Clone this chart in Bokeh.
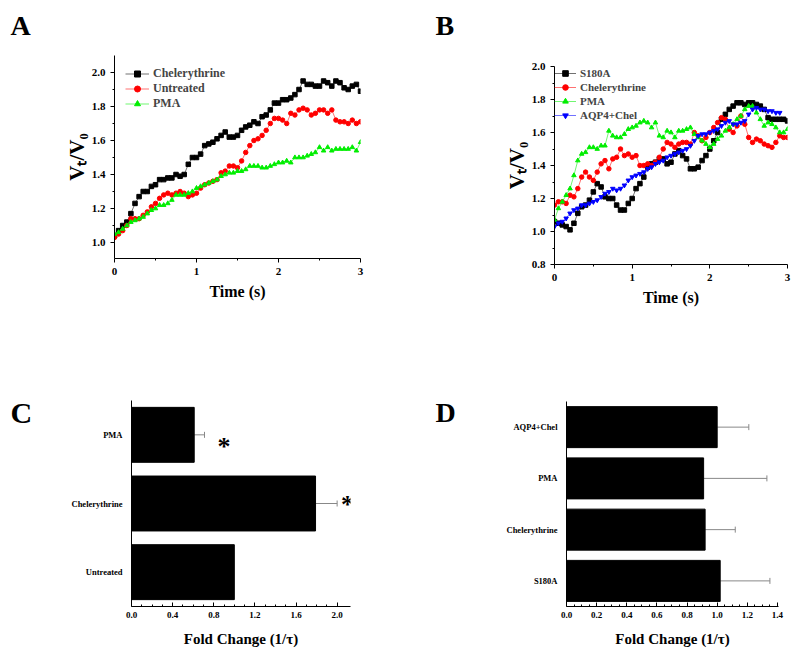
from bokeh.plotting import figure
from bokeh.layouts import column, row
from bokeh.models import (Range1d, FactorRange, FixedTicker, PrintfTickFormatter, Legend, LegendItem,
                          Whisker, TeeHead, ColumnDataSource)
from bokeh.core.properties import value
from bokeh.embed import file_html
from bokeh.resources import INLINE

FONT = "Liberation Serif"

# ---------------- data ----------------
TIME = [0.00, 0.05, 0.10, 0.15, 0.20, 0.25, 0.30, 0.35, 0.40, 0.45, 0.50, 0.55, 0.60, 0.65, 0.70,
        0.75, 0.80, 0.85, 0.90, 0.95, 1.00, 1.05, 1.10, 1.15, 1.20, 1.25, 1.30, 1.35, 1.40, 1.45,
        1.50, 1.55, 1.60, 1.65, 1.70, 1.75, 1.80, 1.85, 1.90, 1.95, 2.00, 2.05, 2.10, 2.15, 2.20,
        2.25, 2.30, 2.35, 2.40, 2.45, 2.50, 2.55, 2.60, 2.65, 2.70, 2.75, 2.80, 2.85, 2.90, 2.95, 3.00]

A_CHELERYTHRINE = [1.04, 1.07, 1.10, 1.12, 1.17, 1.23, 1.27, 1.30, 1.30, 1.33,
                   1.34, 1.37, 1.37, 1.38, 1.38, 1.40, 1.39, 1.40, 1.46, 1.50,
                   1.50, 1.52, 1.57, 1.58, 1.59, 1.61, 1.63, 1.65, 1.62, 1.62,
                   1.63, 1.66, 1.68, 1.69, 1.71, 1.70, 1.74, 1.75, 1.78, 1.82,
                   1.82, 1.84, 1.84, 1.85, 1.87, 1.90, 1.95, 1.93, 1.93, 1.92,
                   1.92, 1.95, 1.94, 1.92, 1.95, 1.94, 1.91, 1.90, 1.92, 1.93, 1.89]
A_UNTREATED = [1.03, 1.05, 1.07, 1.10, 1.14, 1.14, 1.14, 1.16, 1.18, 1.21,
               1.23, 1.26, 1.28, 1.29, 1.28, 1.29, 1.30, 1.29, 1.27, 1.28,
               1.29, 1.32, 1.34, 1.35, 1.36, 1.37, 1.41, 1.42, 1.45, 1.45,
               1.44, 1.48, 1.53, 1.57, 1.60, 1.61, 1.63, 1.66, 1.70, 1.73,
               1.73, 1.72, 1.70, 1.76, 1.75, 1.78, 1.79, 1.78, 1.75, 1.76,
               1.78, 1.78, 1.76, 1.78, 1.72, 1.71, 1.71, 1.70, 1.72, 1.70, 1.71]
A_PMA = [1.05, 1.06, 1.08, 1.10, 1.12, 1.13, 1.14, 1.15, 1.17, 1.19,
         1.20, 1.22, 1.22, 1.23, 1.25, 1.28, 1.28, 1.28, 1.29, 1.30,
         1.32, 1.33, 1.34, 1.35, 1.36, 1.37, 1.39, 1.40, 1.41, 1.41,
         1.42, 1.42, 1.43, 1.45, 1.45, 1.45, 1.44, 1.44, 1.45, 1.46,
         1.47, 1.47, 1.48, 1.47, 1.50, 1.50, 1.50, 1.51, 1.52, 1.53,
         1.56, 1.54, 1.56, 1.54, 1.55, 1.55, 1.55, 1.55, 1.56, 1.54, 1.59]

B_S180A = [1.06, 1.05, 1.04, 1.03, 1.01, 1.05, 1.11, 1.15, 1.16, 1.19,
           1.24, 1.29, 1.27, 1.21, 1.20, 1.20, 1.16, 1.13, 1.13, 1.17,
           1.20, 1.26, 1.29, 1.33, 1.39, 1.41, 1.42, 1.44, 1.44, 1.41,
           1.42, 1.47, 1.49, 1.46, 1.44, 1.38, 1.38, 1.39, 1.43, 1.46,
           1.50, 1.55, 1.60, 1.68, 1.71, 1.74, 1.76, 1.78, 1.78, 1.77,
           1.78, 1.78, 1.77, 1.76, 1.74, 1.69, 1.68, 1.68, 1.68, 1.68, 1.67]
B_CHELERYTHRINE = [1.16, 1.18, 1.18, 1.17, 1.22, 1.21, 1.26, 1.33, 1.36, 1.33,
                   1.31, 1.36, 1.41, 1.43, 1.38, 1.44, 1.45, 1.50, 1.46, 1.47,
                   1.45, 1.46, 1.40, 1.40, 1.41, 1.40, 1.42, 1.45, 1.50, 1.54,
                   1.53, 1.51, 1.53, 1.54, 1.54, 1.53, 1.60, 1.58, 1.55, 1.57,
                   1.60, 1.63, 1.66, 1.69, 1.68, 1.62, 1.60, 1.64, 1.70, 1.65,
                   1.57, 1.54, 1.56, 1.55, 1.53, 1.52, 1.51, 1.54, 1.58, 1.57, 1.57]
B_PMA = [1.07, 1.14, 1.18, 1.22, 1.26, 1.34, 1.43, 1.47, 1.48, 1.51,
         1.51, 1.50, 1.52, 1.52, 1.61, 1.58, 1.57, 1.57, 1.59, 1.62,
         1.63, 1.64, 1.66, 1.67, 1.66, 1.63, 1.66, 1.58, 1.57, 1.61,
         1.60, 1.57, 1.61, 1.61, 1.62, 1.63, 1.59, 1.57, 1.55, 1.53,
         1.51, 1.53, 1.56, 1.58, 1.61, 1.63, 1.65, 1.68, 1.70, 1.74,
         1.76, 1.76, 1.72, 1.68, 1.64, 1.66, 1.65, 1.63, 1.60, 1.60, 1.62]
B_AQP4_CHEL = [1.03, 1.05, 1.06, 1.08, 1.11, 1.13, 1.14, 1.16, 1.16, 1.17,
               1.18, 1.19, 1.21, 1.23, 1.24, 1.26, 1.25, 1.26, 1.28, 1.31,
               1.33, 1.34, 1.35, 1.36, 1.38, 1.39, 1.41, 1.42, 1.43, 1.45,
               1.46, 1.47, 1.48, 1.49, 1.50, 1.52, 1.55, 1.58, 1.59, 1.59,
               1.60, 1.61, 1.62, 1.64, 1.66, 1.67, 1.65, 1.65, 1.66, 1.67,
               1.71, 1.74, 1.75, 1.74, 1.74, 1.73, 1.73, 1.72, 1.72]

C_GROUPS = ["Untreated", "Chelerythrine", "PMA"]
C_FOLD = [1.00, 1.79, 0.61]
C_ERR = [0.0, 0.21, 0.10]
C_STAR_GROUPS = ["PMA", "Chelerythrine"]

D_GROUPS = ["S180A", "Chelerythrine", "PMA", "AQP4+Chel"]
D_FOLD = [1.02, 0.92, 0.91, 1.00]
D_ERR = [0.33, 0.20, 0.42, 0.21]

A_YTICKS = [1.0, 1.2, 1.4, 1.6, 1.8, 2.0]
B_YTICKS = [0.8, 1.0, 1.2, 1.4, 1.6, 1.8, 2.0]
T_TICKS = [0, 1, 2, 3]
C_XTICKS = [0.0, 0.4, 0.8, 1.2, 1.6, 2.0]
D_XTICKS = [0.0, 0.2, 0.4, 0.6, 0.8, 1.0, 1.2, 1.4]

PANEL_LETTERS = ["A", "B", "C", "D"]


def style_axis(ax, label_size, tick_size, ticks_out=True, standoff=5):
    ax.axis_line_color = "black"
    ax.axis_line_width = 1
    ax.major_tick_line_color = "black"
    ax.minor_tick_line_color = "black"
    if ticks_out:
        ax.major_tick_out, ax.major_tick_in = 4, 0
        ax.minor_tick_out, ax.minor_tick_in = 2, 0
    else:
        ax.major_tick_out, ax.major_tick_in = 0, 4
        ax.minor_tick_out, ax.minor_tick_in = 0, 2
    ax.major_label_text_font = FONT
    ax.major_label_text_font_style = "bold"
    ax.major_label_text_font_size = tick_size
    ax.major_label_text_color = "black"
    ax.axis_label_text_font = FONT
    ax.axis_label_text_font_style = "bold"
    ax.axis_label_text_font_size = label_size
    ax.axis_label_text_color = "black"
    ax.axis_label_standoff = standoff


def base_fig(w, h, left, right, top, bottom, **kw):
    p = figure(width=w, height=h, min_border_left=left, min_border_right=right,
               min_border_top=top, min_border_bottom=bottom, output_backend="svg",
               toolbar_location=None, **kw)
    p.grid.visible = False
    p.outline_line_color = None
    p.background_fill_color = "white"
    p.border_fill_color = "white"
    return p


def letter_fig(w, h, txt, tx, ty, size):
    # a bare figure whose frame is the whole figure, used only to hold the panel letter
    p = figure(width=w, height=h, x_range=Range1d(0, w), y_range=Range1d(h, 0),
               min_border=0, x_axis_location=None, y_axis_location=None,
               output_backend="svg", toolbar_location=None)
    p.grid.visible = False
    p.outline_line_color = None
    p.text(x=[tx], y=[ty], text=[txt], text_font=value(FONT), text_font_style="bold",
           text_font_size=size, text_color="black", text_align="left",
           text_baseline="alphabetic")
    return p


def minor_list(major, n):
    out = []
    for a, b in zip(major[:-1], major[1:]):
        for k in range(1, n):
            out.append(a + (b - a) * k / n)
    return out


def series(p, x, y, color, marker, size=4.5):
    ln = p.line(x, y, line_color=color, line_width=0.8, line_alpha=0.7)
    sc = p.scatter(x, y, marker=marker, size=size, fill_color=color, line_color=color)
    return [ln, sc]


GREEN = "#00ee00"

# ---------------- Panel A ----------------
pA = base_fig(360, 330, 74, 40, 55, 72, x_range=Range1d(0, 3), y_range=Range1d(0.906, 2.1))
ra1 = series(pA, TIME, A_CHELERYTHRINE, "black", "square")
ra2 = series(pA, TIME, A_UNTREATED, "red", "circle")
ra3 = series(pA, TIME, A_PMA, GREEN, "triangle")
pA.xaxis.ticker = FixedTicker(ticks=T_TICKS, minor_ticks=[0.5, 1.5, 2.5])
pA.yaxis.ticker = FixedTicker(ticks=A_YTICKS, minor_ticks=minor_list(A_YTICKS, 2))
pA.yaxis.formatter = PrintfTickFormatter(format="%.1f")
pA.xaxis.axis_label = "Time (s)"
pA.yaxis.axis_label = "V\u209c/V\u2080"
style_axis(pA.xaxis[0], "16px", "11px")
style_axis(pA.yaxis[0], "21px", "11px", standoff=0)
legA = Legend(items=[LegendItem(label="Chelerythrine", renderers=ra1),
                     LegendItem(label="Untreated", renderers=ra2),
                     LegendItem(label="PMA", renderers=ra3)],
              location="top_left", margin=11, padding=7, spacing=0,
              glyph_width=24, glyph_height=15, label_height=15, label_standoff=4,
              border_line_color=None, background_fill_alpha=0,
              label_text_font=FONT, label_text_font_style="bold", label_text_font_size="12px")
pA.add_layout(legA)

# ---------------- Panel B ----------------
pB = base_fig(340, 330, 94, 13, 66, 66, x_range=Range1d(0, 3), y_range=Range1d(0.8, 2.0))
rb1 = series(pB, TIME, B_S180A, "black", "square")
rb2 = series(pB, TIME, B_CHELERYTHRINE, "red", "circle")
rb3 = series(pB, TIME, B_PMA, GREEN, "triangle")
rb4 = series(pB, TIME[:len(B_AQP4_CHEL)], B_AQP4_CHEL, "blue", "inverted_triangle")
pB.xaxis.ticker = FixedTicker(ticks=T_TICKS, minor_ticks=[0.5, 1.5, 2.5])
pB.yaxis.ticker = FixedTicker(ticks=B_YTICKS, minor_ticks=minor_list(B_YTICKS, 2))
pB.yaxis.formatter = PrintfTickFormatter(format="%.1f")
pB.xaxis.axis_label = "Time (s)"
pB.yaxis.axis_label = "V\u209c/V\u2080"
style_axis(pB.xaxis[0], "16px", "11px")
style_axis(pB.yaxis[0], "21px", "11px", standoff=0)
legB = Legend(items=[LegendItem(label="S180A", renderers=rb1),
                     LegendItem(label="Chelerythrine", renderers=rb2),
                     LegendItem(label="PMA", renderers=rb3),
                     LegendItem(label="AQP4+Chel", renderers=rb4)],
              location="top_left", margin=0, padding=4, spacing=0,
              glyph_width=22, glyph_height=14, label_height=14, label_standoff=4,
              border_line_color=None, background_fill_alpha=0,
              label_text_font=FONT, label_text_font_style="bold", label_text_font_size="11px")
pB.add_layout(legB)

# ---------------- Panel C ----------------
pC = base_fig(360, 329, 91, 50, 70, 53, x_range=Range1d(0, 2.13),
              y_range=FactorRange(factors=C_GROUPS, range_padding=0))
srcC = ColumnDataSource(dict(g=C_GROUPS, v=C_FOLD))
pC.hbar(y="g", right="v", left=0, height=0.8, source=srcC, fill_color="black", line_color="black")
errC = ColumnDataSource(dict(g=C_GROUPS[1:], v=C_FOLD[1:],
                             hi=[a + b for a, b in zip(C_FOLD[1:], C_ERR[1:])]))
pC.add_layout(Whisker(source=errC, base="g", lower="v", upper="hi", dimension="width",
                      line_color="#888888", line_width=1, lower_head=None,
                      upper_head=TeeHead(size=6, line_color="#888888", line_width=1)))
star_x = [C_FOLD[C_GROUPS.index(g)] + C_ERR[C_GROUPS.index(g)] + (0.19 if g == "PMA" else 0.1)
          for g in C_STAR_GROUPS]
pC.text(x=star_x, y=C_STAR_GROUPS, text=["*", "*"], text_font=value(FONT),
        text_font_style="bold", text_font_size="26px", text_align="center",
        text_baseline="middle", y_offset=[12, 1], text_color="black")
pC.xaxis.ticker = FixedTicker(ticks=C_XTICKS, minor_ticks=minor_list(C_XTICKS, 4))
pC.xaxis.formatter = PrintfTickFormatter(format="%.1f")
pC.xaxis.axis_label = "Fold Change (1/\u03c4)"
style_axis(pC.xaxis[0], "15px", "9px", ticks_out=False, standoff=10)
style_axis(pC.yaxis[0], "15px", "8.5px")
pC.yaxis.major_tick_line_color = None
pC.yaxis.minor_tick_line_color = None

# ---------------- Panel D ----------------
pD = base_fig(340, 329, 106, 22, 71, 53, x_range=Range1d(0, 1.407),
              y_range=FactorRange(factors=D_GROUPS, range_padding=0))
srcD = ColumnDataSource(dict(g=D_GROUPS, v=D_FOLD, hi=[a + b for a, b in zip(D_FOLD, D_ERR)]))
pD.hbar(y="g", right="v", left=0, height=0.8, source=srcD, fill_color="black", line_color="black")
pD.add_layout(Whisker(source=srcD, base="g", lower="v", upper="hi", dimension="width",
                      line_color="#888888", line_width=1, lower_head=None,
                      upper_head=TeeHead(size=6, line_color="#888888", line_width=1)))
pD.xaxis.ticker = FixedTicker(ticks=D_XTICKS, minor_ticks=minor_list(D_XTICKS, 4))
pD.xaxis.formatter = PrintfTickFormatter(format="%.1f")
pD.xaxis.axis_label = "Fold Change (1/\u03c4)"
style_axis(pD.xaxis[0], "15px", "9px", ticks_out=False, standoff=10)
style_axis(pD.yaxis[0], "15px", "8.5px")
pD.yaxis.major_tick_line_color = None
pD.yaxis.minor_tick_line_color = None

# ---------------- panel letters ----------------
lA = letter_fig(40, 330, PANEL_LETTERS[0], 10, 25, "28px")
lB = letter_fig(60, 330, PANEL_LETTERS[1], 35, 25, "28px")
lC = letter_fig(40, 329, PANEL_LETTERS[2], 10, 82, "30px")
lD = letter_fig(60, 329, PANEL_LETTERS[3], 35, 82, "28px")

layout = column(
    row(column(lA), column(pA), column(lB), column(pB)),
    row(column(lC), column(pC), column(lD), column(pD)),
)
open("out.html", "w").write(file_html(layout, INLINE))
